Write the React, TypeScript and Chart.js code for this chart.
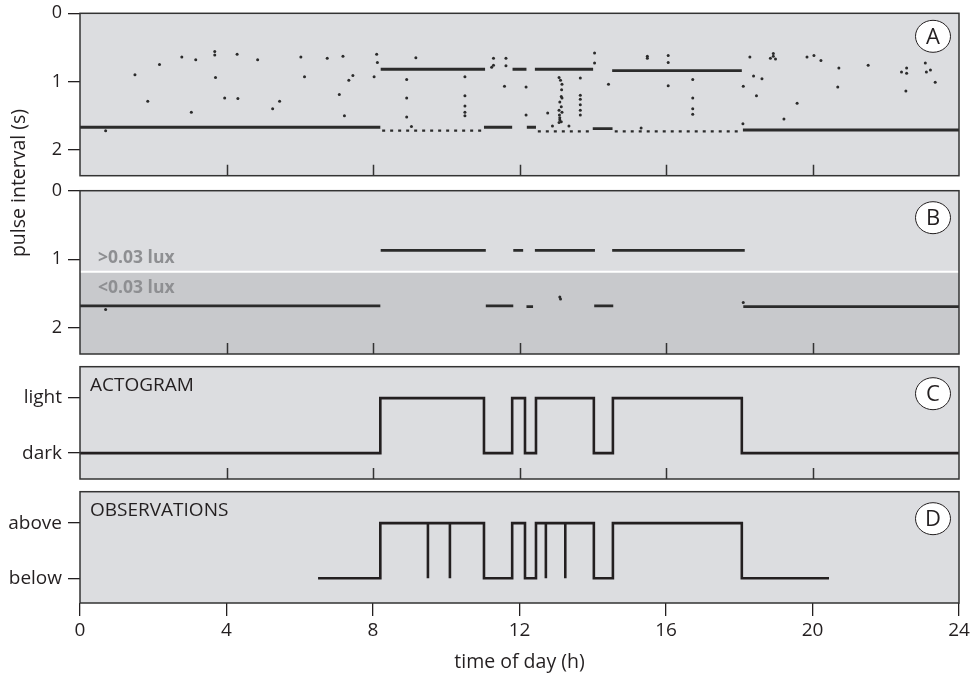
import React, { useEffect, useRef } from 'react';
import { Chart, registerables } from 'chart.js';
Chart.register(...registerables);

const FONT = "'Open Sans', 'Noto Sans', sans-serif";
const INK = '#231f20';
const PANEL_BG = '#dcdde0';
const PANEL_DARK = '#c8c9cc';
const LUX_TEXT = '#8e8f92';

// x axis (time of day, h)
const hourTicks = [0, 4, 8, 12, 16, 20, 24];
const pulseTicks = [0, 1, 2];

// ---------- Panel A: all pulse intervals ----------
const aBandStart = [0, 8.21, 11.03, 11.81, 12.2, 12.42, 14.0, 14.53, 18.1];
const aBandEnd = [8.2, 11.06, 11.8, 12.19, 12.45, 14.01, 14.54, 18.07, 24];
const aBandValue = [1.67, 0.82, 1.67, 0.82, 1.67, 0.82, 1.69, 0.84, 1.71];
const aSparseStart = [8.25, 12.5, 14.6];
const aSparseEnd = [11.0, 14.0, 18.05];
const aSparseValue = [1.72, 1.73, 1.73];
const aDotHours = [
  0.7, 1.5, 1.85, 2.17, 2.78, 3.04, 3.16, 3.68, 3.68, 3.7, 3.95, 4.29, 4.31, 4.85, 5.26, 5.45,
  6.03, 6.13, 6.75, 7.08, 7.18, 7.22, 7.34, 7.45, 8.03, 8.1, 8.12, 8.92, 8.92, 8.92, 9.05, 9.17,
  10.51, 10.51, 10.51, 10.51, 10.51, 11.24, 11.29, 11.29, 11.59, 11.63, 11.63, 12.18, 12.18,
  12.77, 12.9, 13.08, 13.12, 13.16, 13.15, 13.14, 13.16, 13.1, 13.14, 13.08, 13.16, 13.09, 13.1,
  13.1, 13.14, 13.08, 13.35, 13.66, 13.66, 13.66, 13.66, 13.66, 13.66, 14.05, 14.05, 14.43,
  15.32, 15.49, 15.49, 16.06, 16.06, 16.06, 16.73, 16.73, 16.73, 16.73, 18.1, 18.11, 18.29,
  18.39, 18.47, 18.62, 18.85, 18.93, 18.93, 18.99, 19.22, 19.58, 19.85, 20.04, 20.23, 20.69,
  20.72, 21.52, 22.43, 22.55, 22.57, 22.57, 23.08, 23.11, 23.22, 23.35,
];
const aDotValues = [
  1.72, 0.9, 1.29, 0.75, 0.64, 1.45, 0.68, 0.56, 0.61, 0.94, 1.24, 0.6, 1.25, 0.68, 1.4, 1.29,
  0.64, 0.93, 0.66, 1.19, 0.63, 1.5, 0.98, 0.91, 0.93, 0.6, 0.72, 0.97, 1.24, 1.52, 1.66, 0.65,
  0.93, 1.21, 1.36, 1.45, 1.5, 0.79, 0.76, 0.66, 1.07, 0.66, 0.77, 1.08, 1.49,
  1.46, 1.65, 0.94, 0.98, 1.04, 1.12, 1.22, 1.24, 1.3, 1.37, 1.42, 1.45, 1.49, 1.53,
  1.56, 1.59, 1.6, 1.65, 0.95, 1.2, 1.26, 1.34, 1.42, 1.49, 0.58, 0.73, 1.04,
  1.68, 0.63, 0.66, 0.62, 0.72, 1.06, 0.97, 1.24, 1.4, 1.48, 1.62, 1.07, 0.64,
  0.92, 1.21, 0.96, 0.66, 0.59, 0.63, 0.67, 1.55, 1.32, 0.64, 0.62, 0.69, 1.08,
  0.8, 0.76, 0.86, 1.14, 0.8, 0.88, 0.73, 0.86, 0.83, 1.01,
];

// ---------- Panel B: pulse intervals split by light level ----------
const bBandStart = [0, 8.21, 11.83, 12.42, 14.53, 11.08, 12.19, 14.04, 18.11];
const bBandEnd = [8.2, 11.08, 12.1, 14.06, 18.15, 11.83, 12.37, 14.56, 24];
const bBandValue = [1.68, 0.87, 0.87, 0.87, 0.87, 1.68, 1.69, 1.68, 1.69];
const bDotHours = [0.7, 13.1, 13.12, 18.11];
const bDotValues = [1.73, 1.55, 1.58, 1.63];
const luxThreshold = 1.18;
const luxLabels = ['>0.03 lux', '<0.03 lux'];
const luxLabelValues = [0.98, 1.42];

// ---------- Panel C: actogram ----------
const actoHours = [0, 8.2, 11.03, 11.8, 12.15, 12.45, 14.03, 14.55, 18.07, 24];
const actoStates = [0, 1, 0, 1, 0, 1, 0, 1, 0, 0];
const actoLabels = ['dark', 'light'];

// ---------- Panel D: observations ----------
const obsHours = [6.5, 8.2, 9.5, 9.5, 10.1, 10.1, 11.03, 11.8, 12.15, 12.45, 12.72, 12.72, 13.25, 13.25, 14.03, 14.55, 18.07, 20.45];
const obsStates = [0, 1, 0, 1, 0, 1, 0, 1, 0, 1, 0, 1, 0, 1, 0, 1, 0, 0];
const obsLabels = ['below', 'above'];

const panelLetters = ['A', 'B', 'C', 'D'];
const panelTitles = ['', '', 'ACTOGRAM', 'OBSERVATIONS'];

const bandDatasets = (starts: number[], ends: number[], vals: number[], width: number, dash: number[]) =>
  starts.map((s, i) => ({
    type: 'line',
    data: [{ x: s, y: vals[i] }, { x: ends[i], y: vals[i] }],
    borderColor: '#2b2b2b',
    borderWidth: width,
    borderDash: dash,
    pointRadius: 0,
    fill: false,
  }));

const dotDataset = (hours: number[], vals: number[]) => ({
  type: 'scatter',
  data: hours.map((h, i) => ({ x: h, y: vals[i] })),
  backgroundColor: '#2b2b2b',
  borderWidth: 0,
  pointRadius: 1.5,
  showLine: false,
});

const stepDataset = (hours: number[], states: number[]) => ({
  type: 'line',
  data: hours.map((h, i) => ({ x: h, y: states[i] })),
  stepped: true,
  borderColor: INK,
  borderWidth: 2.6,
  pointRadius: 0,
  fill: false,
});

type PanelOpts = {
  index: number;
  threshold?: number;
  innerTicks: boolean;
};

const framePlugin = (o: PanelOpts) => ({
  id: 'frame' + o.index,
  beforeDraw(chart: any) {
    const { ctx, chartArea: a, scales } = chart;
    ctx.save();
    ctx.fillStyle = PANEL_BG;
    ctx.fillRect(a.left, a.top, a.width, a.height);
    if (o.threshold != null) {
      const yy = scales.y.getPixelForValue(o.threshold);
      ctx.fillStyle = PANEL_DARK;
      ctx.fillRect(a.left, yy, a.width, a.bottom - yy);
      ctx.strokeStyle = '#ffffff';
      ctx.lineWidth = 2;
      ctx.beginPath();
      ctx.moveTo(a.left, yy);
      ctx.lineTo(a.right, yy);
      ctx.stroke();
      ctx.fillStyle = LUX_TEXT;
      ctx.font = `bold 17.5px ${FONT}`;
      ctx.textAlign = 'left';
      ctx.textBaseline = 'middle';
      luxLabels.forEach((t, i) => {
        ctx.fillText(t, a.left + 18, scales.y.getPixelForValue(luxLabelValues[i]));
      });
    }
    ctx.restore();
  },
  afterDraw(chart: any) {
    const { ctx, chartArea: a, scales } = chart;
    ctx.save();
    ctx.strokeStyle = '#333333';
    ctx.lineWidth = 1.5;
    if (o.innerTicks) {
      ctx.beginPath();
      hourTicks.slice(1, -1).forEach((h) => {
        const x = Math.round(scales.x.getPixelForValue(h)) + 0.5;
        ctx.moveTo(x, a.bottom);
        ctx.lineTo(x, a.bottom - 11);
      });
      ctx.stroke();
    }
    ctx.strokeRect(a.left, a.top, a.width, a.height);
    // panel title
    const title = panelTitles[o.index];
    if (title) {
      ctx.fillStyle = INK;
      ctx.font = `19px ${FONT}`;
      ctx.textAlign = 'left';
      ctx.textBaseline = 'middle';
      ctx.fillText(title, a.left + 10, a.top + 19);
    }
    // circled letter
    const cx = a.right - 26;
    const cy = a.top + (o.index === 0 ? 23 : 27);
    ctx.beginPath();
    ctx.ellipse(cx, cy, 17.5, 16, 0, 0, Math.PI * 2);
    ctx.fillStyle = '#ffffff';
    ctx.fill();
    ctx.lineWidth = 1;
    ctx.strokeStyle = INK;
    ctx.stroke();
    ctx.fillStyle = INK;
    ctx.font = `22px ${FONT}`;
    ctx.textAlign = 'center';
    ctx.textBaseline = 'middle';
    ctx.fillText(panelLetters[o.index], cx, cy + 1);
    ctx.restore();
  },
});

const yAxis = (min: number, max: number, reverse: boolean, tickVals: number[], labels: string[] | null, size: number) => ({
  type: 'linear',
  position: 'left',
  min,
  max,
  reverse,
  border: { display: false },
  grid: { drawOnChartArea: false, drawTicks: true, tickLength: 12, color: INK, lineWidth: 1.3 },
  ticks: {
    color: INK,
    padding: 6,
    font: { family: FONT, size },
    callback: (v: number) => (labels ? labels[v] : String(v)),
  },
  afterBuildTicks: (s: any) => {
    s.ticks = tickVals.map((v) => ({ value: v }));
  },
  afterFit: (s: any) => {
    s.width = 80;
    s.paddingTop = 0;
    s.paddingBottom = 0;
  },
});

const hiddenX = {
  type: 'linear',
  min: 0,
  max: 24,
  display: false,
};

const shownX = {
  type: 'linear',
  min: 0,
  max: 24,
  border: { display: false },
  grid: { drawOnChartArea: false, drawTicks: true, tickLength: 13, color: INK, lineWidth: 1.3 },
  ticks: { color: INK, padding: 3, stepSize: 4, font: { family: FONT, size: 19 } },
  afterBuildTicks: (s: any) => {
    s.ticks = hourTicks.map((v) => ({ value: v }));
  },
  title: {
    display: true,
    text: 'time of day (h)',
    color: INK,
    font: { family: FONT, size: 19.5 },
    padding: { top: 0, bottom: 0 },
  },
  afterFit: (s: any) => {
    s.height = 71;
    s.paddingLeft = 0;
    s.paddingRight = 0;
  },
};

type PanelProps = {
  top: number;
  height: number;
  padTop: number;
  padBottom: number;
  build: () => any;
};

function Panel({ top, height, padTop, padBottom, build }: PanelProps) {
  const ref = useRef<HTMLCanvasElement | null>(null);
  useEffect(() => {
    if (!ref.current) return;
    const cfg = build();
    cfg.options.layout = { padding: { top: padTop, bottom: padBottom, left: 0, right: 14 } };
    const chart = new Chart(ref.current, cfg);
    return () => chart.destroy();
  }, []);
  return (
    <canvas
      ref={ref}
      width={973}
      height={height}
      style={{ position: 'absolute', left: 0, top, width: 973, height, display: 'block' }}
    />
  );
}

const baseOptions = (scales: any) => ({
  responsive: false,
  animation: false,
  events: [],
  plugins: { legend: { display: false }, tooltip: { enabled: false } },
  scales,
});

export default function App() {
  return (
    <div style={{ position: 'absolute', left: 0, top: 0, width: 973, height: 674, background: '#ffffff', overflow: 'hidden' }}>
      <Panel
        top={0}
        height={181}
        padTop={13.3}
        padBottom={5.3}
        build={() => ({
          type: 'scatter',
          data: {
            datasets: [
              ...bandDatasets(aBandStart, aBandEnd, aBandValue, 2.8, []),
              ...bandDatasets(aSparseStart, aSparseEnd, aSparseValue, 2.2, [3, 5]),
              dotDataset(aDotHours, aDotValues),
            ],
          },
          options: baseOptions({ x: hiddenX, y: yAxis(0, 2.38, true, pulseTicks, null, 18) }),
          plugins: [framePlugin({ index: 0, innerTicks: true })],
        })}
      />
      <Panel
        top={181}
        height={179}
        padTop={9.7}
        padBottom={6}
        build={() => ({
          type: 'scatter',
          data: {
            datasets: [
              ...bandDatasets(bBandStart, bBandEnd, bBandValue, 2.8, []),
              dotDataset(bDotHours, bDotValues),
            ],
          },
          options: baseOptions({ x: hiddenX, y: yAxis(0, 2.38, true, pulseTicks, null, 18) }),
          plugins: [framePlugin({ index: 1, innerTicks: true, threshold: luxThreshold })],
        })}
      />
      <Panel
        top={360}
        height={125}
        padTop={6.7}
        padBottom={6}
        build={() => ({
          type: 'line',
          data: { datasets: [stepDataset(actoHours, actoStates)] },
          options: baseOptions({ x: hiddenX, y: yAxis(-0.47, 1.57, false, [0, 1], actoLabels, 19) }),
          plugins: [framePlugin({ index: 2, innerTicks: true })],
        })}
      />
      <Panel
        top={485}
        height={189}
        padTop={6.7}
        padBottom={0}
        build={() => ({
          type: 'line',
          data: { datasets: [stepDataset(obsHours, obsStates)] },
          options: baseOptions({ x: shownX, y: yAxis(-0.45, 1.57, false, [0, 1], obsLabels, 19) }),
          plugins: [framePlugin({ index: 3, innerTicks: false })],
        })}
      />
      <div
        style={{
          position: 'absolute',
          left: 18 - 150,
          top: 183 - 12,
          width: 300,
          height: 24,
          lineHeight: '24px',
          textAlign: 'center',
          transform: 'rotate(-90deg)',
          fontFamily: FONT,
          fontSize: 19.5,
          color: INK,
          whiteSpace: 'nowrap',
        }}
      >
        pulse interval (s)
      </div>
    </div>
  );
}
